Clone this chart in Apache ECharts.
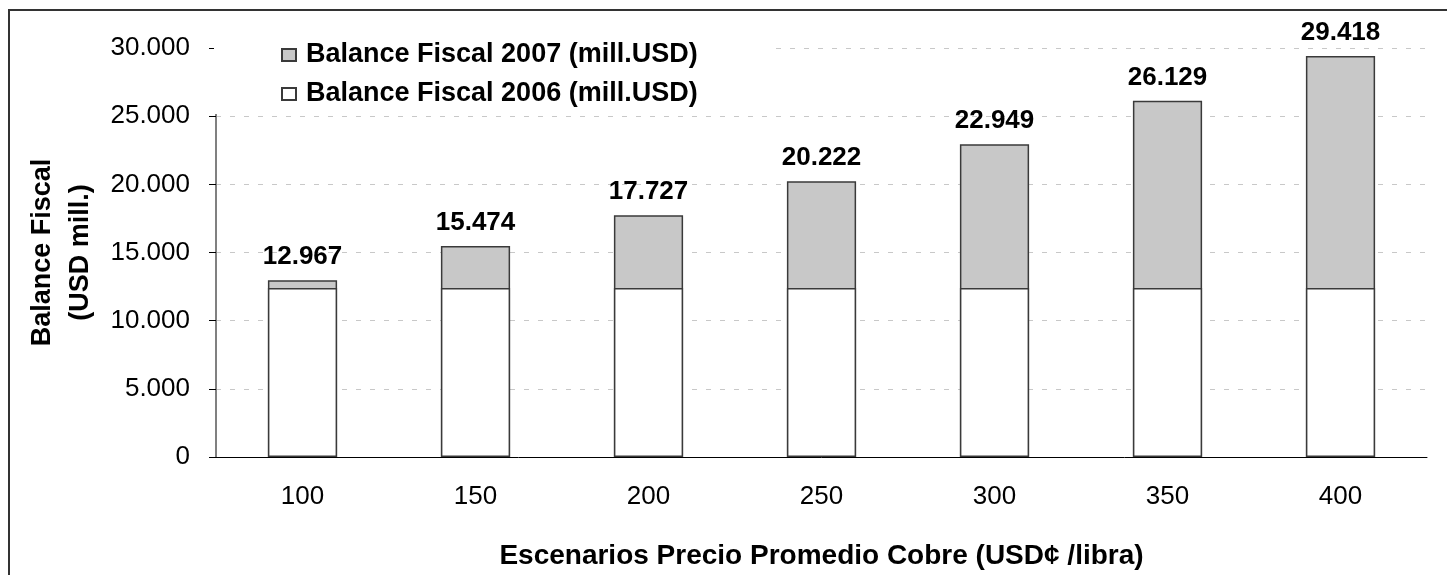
<!DOCTYPE html>
<html>
<head>
<meta charset="utf-8">
<script src="https://cdn.jsdelivr.net/npm/echarts@6/dist/echarts.min.js"></script>
<style>
  html, body { margin: 0; padding: 0; background: #fff; }
  #chart { width: 1447px; height: 575px; }
</style>
</head>
<body>
<div id="chart"></div>
<script>
const categories = ['100', '150', '200', '250', '300', '350', '400']
const balance2007 = [12967, 15474, 17727, 20222, 22949, 26129, 29418]
const balance2006 = [12400, 12400, 12400, 12400, 12400, 12400, 12400]
const yTicks = [0, 5000, 10000, 15000, 20000, 25000, 30000]

const fmt = v => String(v).replace(/\B(?=(\d{3})+(?!\d))/g, '.')
const font = 'Liberation Sans, Arial, sans-serif'

const chart = echarts.init(document.getElementById('chart'))

const option = {
  animation: false,
  textStyle: { fontFamily: font },
  grid: { left: 216, right: 20, top: 48, bottom: 117 },
  graphic: [
    {
      type: 'rect',
      shape: { x: 9, y: 10, width: 1460, height: 600 },
      style: { fill: 'none', stroke: '#333', lineWidth: 2 },
      silent: true
    }
  ],
  legend: {
    orient: 'vertical',
    left: 214,
    top: 28,
    padding: [12, 78, 5, 67],
    backgroundColor: '#fff',
    itemGap: 9,
    itemWidth: 14,
    itemHeight: 12,
    icon: 'rect',
    data: ['Balance Fiscal 2007 (mill.USD)', 'Balance Fiscal 2006 (mill.USD)'],
    textStyle: {
      fontFamily: font, fontSize: 27, fontWeight: 'bold', color: '#000',
      lineHeight: 30, padding: [0, 0, 0, 5]
    }
  },
  xAxis: {
    type: 'category',
    data: categories,
    name: 'Escenarios Precio Promedio Cobre (USD¢ /libra)',
    nameLocation: 'middle',
    nameGap: 85,
    nameTextStyle: { fontFamily: font, fontSize: 28, fontWeight: 'bold', color: '#000' },
    axisLine: { lineStyle: { color: '#000', width: 1 } },
    axisTick: { length: 10, lineStyle: { color: '#555' } },
    axisLabel: { color: '#000', fontSize: 26, margin: 27, fontFamily: font }
  },
  yAxis: {
    type: 'value',
    min: yTicks[0],
    max: yTicks[yTicks.length - 1],
    interval: 5000,
    name: 'Balance Fiscal\n(USD mill.)',
    nameLocation: 'middle',
    nameGap: 112,
    nameRotate: 90,
    nameTextStyle: { fontFamily: font, fontSize: 27, fontWeight: 'bold', color: '#000', lineHeight: 38 },
    axisLine: { show: true, lineStyle: { color: '#808080', width: 2 } },
    axisTick: { show: true, inside: false, length: 7, lineStyle: { color: '#000' } },
    axisLabel: { color: '#000', fontSize: 26, margin: 26, fontFamily: font, formatter: v => fmt(v) },
    splitLine: { lineStyle: { color: '#c8c8c8', type: [5, 9] } }
  },
  series: [
    {
      name: 'Balance Fiscal 2007 (mill.USD)',
      type: 'bar',
      data: balance2007,
      barCategoryGap: '60%',
      barGap: '-100%',
      itemStyle: { color: '#c8c8c8', borderColor: '#3a3a3a', borderWidth: 1.5 },
      label: {
        show: true,
        position: 'top',
        distance: 10,
        fontFamily: font,
        fontSize: 26,
        fontWeight: 'bold',
        color: '#000',
        formatter: p => fmt(p.value)
      }
    },
    {
      name: 'Balance Fiscal 2006 (mill.USD)',
      type: 'bar',
      data: balance2006,
      barCategoryGap: '60%',
      barGap: '-100%',
      itemStyle: { color: '#fff', borderColor: '#3a3a3a', borderWidth: 1.5 }
    }
  ]
}

chart.setOption(option)
</script>
</body>
</html>
